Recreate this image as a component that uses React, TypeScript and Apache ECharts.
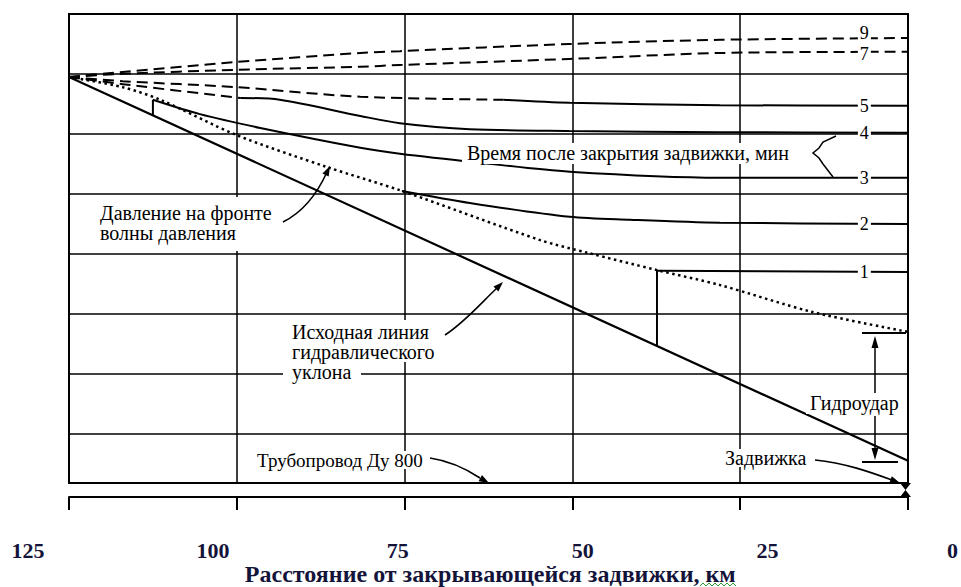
import React, { useEffect, useRef } from "react";
import * as echarts from "echarts";

// Distance from the closing valve, km (x) ; head in grid units (y)
const distanceTicks = [125, 100, 75, 50, 25, 0];
const gridLevels = [1, 2, 3, 4, 5, 6, 7];

const hydraulicLine: number[][] = [[125, 6.95], [0, 0.55]];
const waveFront: number[][] = [
  [125, 6.95], [117, 6.78], [111.4, 6.57], [100, 5.98], [86.6, 5.45], [75.4, 5.05],
  [54.8, 4.23], [47.8, 4.02], [37.4, 3.73], [28, 3.48], [14.2, 3.03], [0, 2.7],
];
const curve9: number[][] = [
  [125, 6.95], [117.4, 7.03], [100, 7.2], [81.6, 7.35], [75.7, 7.38], [50.5, 7.5], [28, 7.57], [0, 7.6],
];
const curve7: number[][] = [
  [125, 6.95], [117.4, 7.0], [100, 7.07], [81.6, 7.12], [75.7, 7.15], [50.5, 7.25], [28, 7.35], [0, 7.37],
];
const curve5Dashed: number[][] = [[125, 6.95], [117, 6.88], [100, 6.78], [81.6, 6.62], [60.3, 6.57]];
const curve5Solid: number[][] = [[60.3, 6.57], [50.4, 6.52], [28, 6.48], [0, 6.47]];
const curve4Dashed: number[][] = [[125, 6.95], [117, 6.83], [99.5, 6.6]];
const curve4Solid: number[][] = [
  [99.5, 6.6], [93.6, 6.57], [81.6, 6.3], [75.7, 6.18], [65.3, 6.08], [50.5, 6.05], [28, 6.03], [0, 6.02],
];
const curve3Step: number[][] = [[112.5, 6.31], [112.5, 6.57]];
const curve3: number[][] = [
  [112.5, 6.57], [105.5, 6.33], [96.5, 6.1], [81.6, 5.77], [75.7, 5.67], [63.8, 5.52], [50.4, 5.37], [28, 5.27], [0, 5.27],
];
const curve2: number[][] = [[75.4, 5.05], [65.3, 4.85], [50.4, 4.62], [41.4, 4.57], [28, 4.52], [0, 4.5]];
const curve1Step: number[][] = [[37.4, 2.47], [37.4, 3.72]];
const curve1: number[][] = [[37.4, 3.72], [0, 3.7]];

const curveLabels = ["9", "7", "5", "4", "3", "2", "1"];
const labelX = 6.5;

const axisTitle = "Расстояние от закрывающейся задвижки, км";

function interp(data: number[][], x: number): number {
  for (let i = 0; i < data.length - 1; i++) {
    const [x0, y0] = data[i];
    const [x1, y1] = data[i + 1];
    if ((x <= x0 && x >= x1) || (x >= x0 && x <= x1)) {
      if (x1 === x0) return y0;
      return y0 + ((y1 - y0) * (x - x0)) / (x1 - x0);
    }
  }
  return data[data.length - 1][1];
}

const SERIF = '"Liberation Serif", "Times New Roman", serif';
const TNR = '"Liberation Serif", "Times New Roman", serif';

function markLabel(name: string, data: number[][], dy = 0) {
  return {
    silent: true,
    symbol: "rect",
    symbolSize: [13, 14],
    symbolOffset: [0, dy],
    itemStyle: { color: "#fff" },
    label: {
      show: true,
      position: "inside",
      formatter: name,
      color: "#000",
      fontSize: 18,
      lineHeight: 14,
      fontFamily: TNR,
    },
    data: [{ coord: [labelX, interp(data, labelX)] }],
  };
}

function lineSeries(data: number[][], opts: any = {}) {
  return {
    type: "line",
    xAxisIndex: 0,
    yAxisIndex: 0,
    data,
    symbol: "none",
    silent: true,
    smooth: opts.smooth ?? 0,
    lineStyle: {
      color: "#000",
      width: opts.width ?? 2,
      type: opts.type ?? "solid",
      cap: opts.cap ?? "butt",
    },
    z: 3,
    ...(opts.extra || {}),
  };
}

function arrowHead(tx: number, ty: number, dx: number, dy: number, len = 10, half = 3.5) {
  const l = Math.hypot(dx, dy);
  const ux = dx / l;
  const uy = dy / l;
  const bx = tx - ux * len;
  const by = ty - uy * len;
  return {
    type: "polygon",
    z: 60,
    shape: {
      points: [
        [tx, ty],
        [bx - uy * half, by + ux * half],
        [bx + uy * half, by - ux * half],
      ],
    },
    style: { fill: "#000" },
  };
}

function whiteRect(x: number, y: number, w: number, h: number) {
  return { type: "rect", z: 50, shape: { x, y, width: w, height: h }, style: { fill: "#fff" } };
}

function txt(text: string, x: number, y: number, size = 20, family = SERIF) {
  return {
    type: "text",
    z: 55,
    x,
    y,
    style: { text, fill: "#000", fontSize: size, fontFamily: family, verticalAlign: "middle", align: "left" },
  };
}

function seg(x1: number, y1: number, x2: number, y2: number, w = 1.5) {
  return { type: "line", z: 56, shape: { x1, y1, x2, y2 }, style: { stroke: "#000", lineWidth: w } };
}

function bez(x1: number, y1: number, cpx1: number, cpy1: number, cpx2: number, cpy2: number, x2: number, y2: number) {
  return {
    type: "bezierCurve",
    z: 56,
    shape: { x1, y1, cpx1, cpy1, cpx2, cpy2, x2, y2 },
    style: { stroke: "#000", lineWidth: 1.6, fill: null },
  };
}

export default function App() {
  const ref = useRef<HTMLDivElement>(null);
  useEffect(() => {
    if (!ref.current) return;
    const chart = echarts.init(ref.current, null, { renderer: "svg" });
    const dash = [11, 6];
    const squiggle: number[][] = [];
    for (let i = 0; i <= 12; i++) squiggle.push([700 + i * 3, i % 2 === 0 ? 586 : 583]);
    const option: any = {
      animation: false,
      backgroundColor: "#fff",
      grid: [
        { left: 69, right: 53, top: 14, bottom: 104, show: true, borderColor: "#000", borderWidth: 2, backgroundColor: "transparent" },
        { left: 28, right: 3, top: 520, bottom: 47 },
      ],
      xAxis: [
        {
          type: "value",
          gridIndex: 0,
          min: 0,
          max: 125,
          interval: 25,
          inverse: true,
          position: "bottom",
          offset: 14,
          axisLine: { show: true, lineStyle: { color: "#000", width: 2 } },
          axisTick: { show: true, length: 13, inside: false, lineStyle: { color: "#000", width: 2 } },
          axisLabel: { show: false },
          splitLine: { show: true, lineStyle: { color: "#000", width: 1.5 } },
        },
        {
          type: "value",
          gridIndex: 1,
          min: 0,
          max: 125,
          interval: 25,
          inverse: true,
          axisLine: { show: false },
          axisTick: { show: false },
          splitLine: { show: false },
          axisLabel: {
            show: true,
            margin: 0,
            fontFamily: TNR,
            fontWeight: "bold",
            fontSize: 22,
            color: "#14143a",
            formatter: (v: number) => (distanceTicks.includes(v) ? String(v) : ""),
          },
          name: axisTitle,
          nameLocation: "middle",
          nameGap: 23,
          nameTextStyle: { fontFamily: TNR, fontWeight: "bold", fontSize: 24, color: "#14143a" },
        },
      ],
      yAxis: [
        { type: "value", gridIndex: 0, min: 0.18, max: 8, show: false, splitLine: { show: false } },
        { type: "value", gridIndex: 1, min: 0, max: 1, show: false, splitLine: { show: false } },
      ],
      series: [
        lineSeries(hydraulicLine, {
          width: 2.2,
          extra: {
            markLine: {
              silent: true,
              symbol: ["none", "none"],
              label: { show: false },
              lineStyle: { color: "#000", width: 1.5, type: "solid" },
              data: gridLevels.map((v) => ({ yAxis: v })),
            },
          },
        }),
        lineSeries(waveFront, { smooth: 0.3, width: 2.5, type: [2.5, 3.5] }),
        lineSeries(curve9, { smooth: 0.3, type: dash, extra: { markPoint: markLabel(curveLabels[0], curve9, -5) } }),
        lineSeries(curve7, { smooth: 0.3, type: dash, extra: { markPoint: markLabel(curveLabels[1], curve7, 2) } }),
        lineSeries(curve5Dashed, { smooth: 0.3, type: dash }),
        lineSeries(curve5Solid, { smooth: 0.3, extra: { markPoint: markLabel(curveLabels[2], curve5Solid) } }),
        lineSeries(curve4Dashed, { smooth: 0.3, type: dash }),
        lineSeries(curve4Solid, { smooth: 0.3, extra: { markPoint: markLabel(curveLabels[3], curve4Solid) } }),
        lineSeries(curve3Step, {}),
        lineSeries(curve3, { smooth: 0.3, extra: { markPoint: markLabel(curveLabels[4], curve3) } }),
        lineSeries(curve2, { smooth: 0.3, extra: { markPoint: markLabel(curveLabels[5], curve2) } }),
        lineSeries(curve1Step, {}),
        lineSeries(curve1, { extra: { markPoint: markLabel(curveLabels[6], curve1) } }),
        { type: "line", xAxisIndex: 1, yAxisIndex: 1, data: [], symbol: "none" },
      ],
      graphic: {
        elements: [
          // Time label with brace
          whiteRect(462, 143, 350, 21),
          txt("Время после закрытия задвижки, мин", 467, 153),
          {
            type: "polyline",
            z: 56,
            shape: { points: [[836, 136], [823, 142], [819, 148], [813, 153], [819, 158], [823, 164], [833, 177]] },
            style: { stroke: "#000", lineWidth: 1.5, fill: null },
          },
          // Wave front pressure
          whiteRect(95, 197, 188, 54),
          txt("Давление на фронте", 100, 213),
          txt("волны давления", 100, 233),
          bez(283, 222, 303, 212, 318, 192, 327, 172),
          arrowHead(330, 166, 4, -8),
          // Initial hydraulic gradient
          whiteRect(286, 320, 162, 42),
          whiteRect(283, 362, 78, 20),
          txt("Исходная линия", 292, 332),
          txt("гидравлического", 292, 352),
          txt("уклона", 292, 372),
          bez(445, 335, 465, 322, 482, 302, 497, 288),
          arrowHead(503, 282, 7, -7),
          // Water hammer dimension
          seg(862, 333, 906, 333, 2),
          seg(862, 462, 898, 462, 2),
          seg(875, 345, 875, 393),
          seg(875, 416, 875, 452),
          arrowHead(875, 336, 0, -1, 12, 3.5),
          arrowHead(875, 460, 0, 1, 12, 3.5),
          whiteRect(806, 393, 100, 21),
          txt("Гидроудар", 810, 403),
          // Valve
          whiteRect(722, 449, 90, 18),
          txt("Задвижка", 725, 458),
          bez(815, 460, 845, 463, 870, 472, 892, 480),
          arrowHead(900, 483, 8, 3),
          { type: "polygon", z: 60, shape: { points: [[900, 483], [911, 483], [905.5, 490], [911, 497], [900, 497], [905.5, 490]] }, style: { fill: "#000" } },
          // Pipeline
          whiteRect(252, 451, 176, 18),
          txt("Трубопровод Ду 800", 257, 460, 19),
          bez(430, 458, 450, 461, 468, 470, 480, 478),
          arrowHead(489, 483, 9, 5),
          // spell-check squiggle under "км"
          { type: "polyline", z: 60, shape: { points: squiggle }, style: { stroke: "#2e9e2e", lineWidth: 1, fill: null } },
        ],
      },
    };
    chart.setOption(option);
    return () => chart.dispose();
  }, []);
  return <div ref={ref} style={{ position: "absolute", left: 0, top: 0, width: 961, height: 587 }} />;
}
